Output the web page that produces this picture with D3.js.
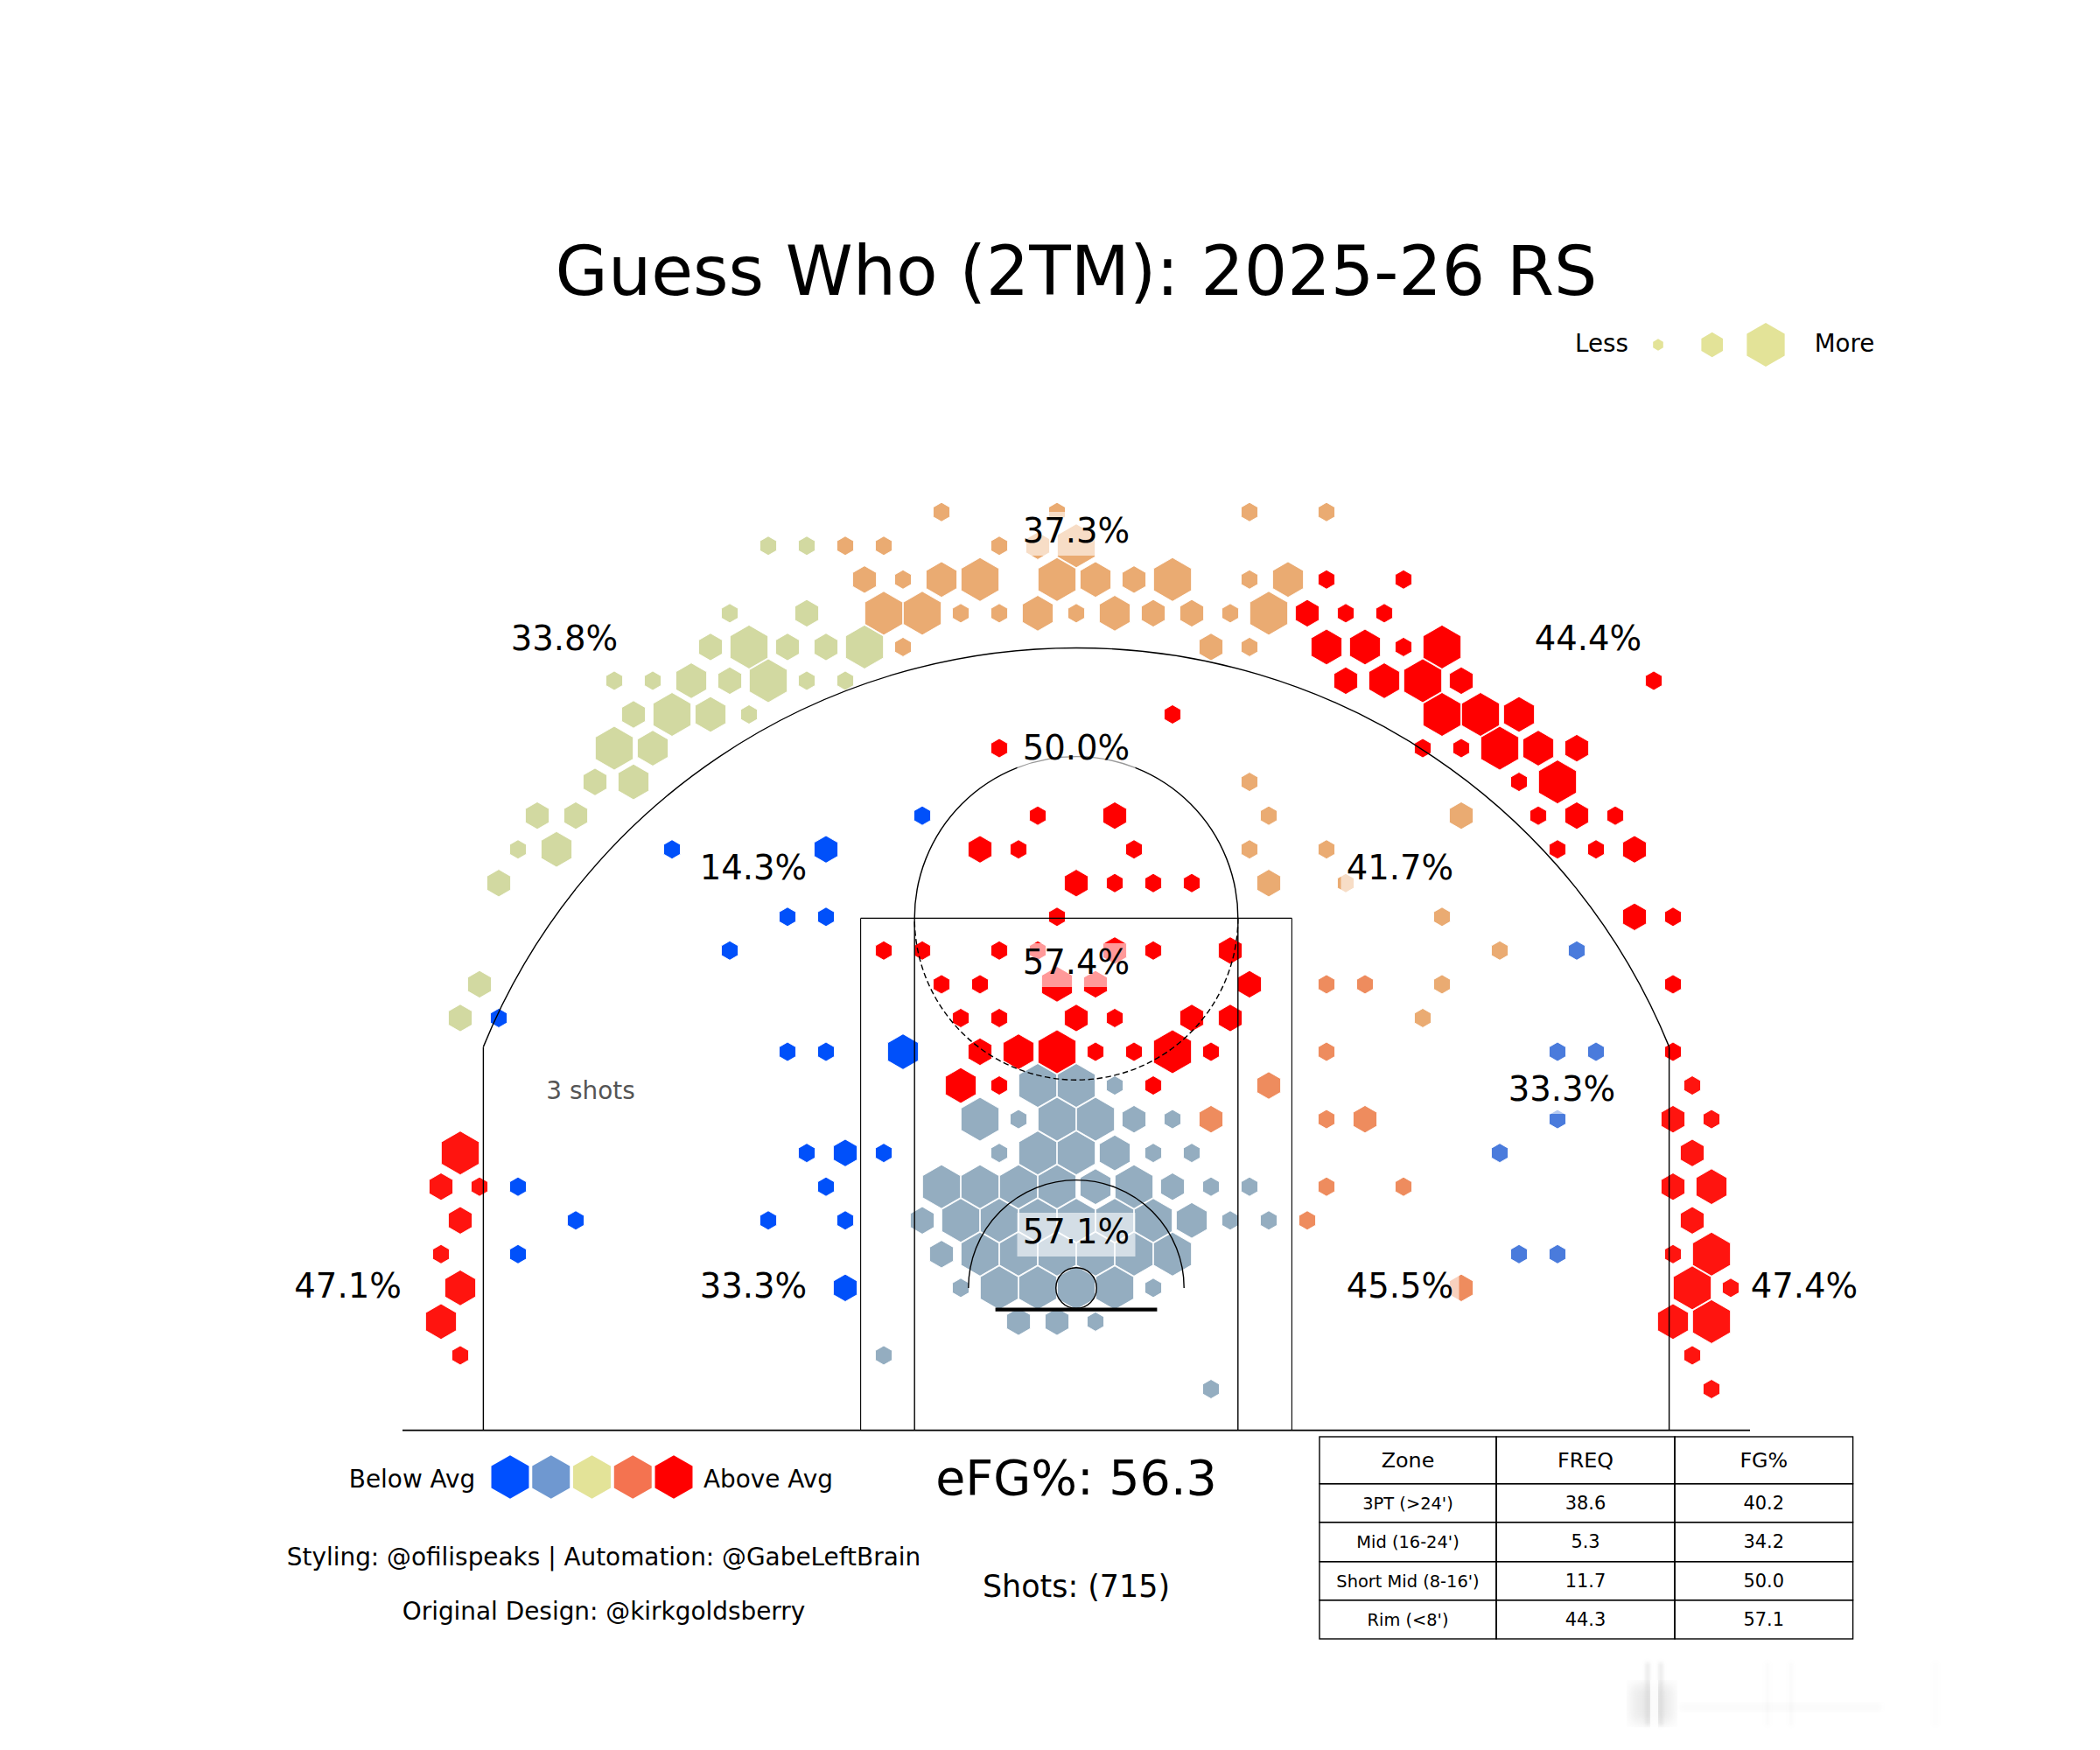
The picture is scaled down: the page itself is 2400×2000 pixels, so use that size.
<!DOCTYPE html>
<html lang="en">
<head>
  <meta charset="UTF-8">
  <title>Shot_Chart</title>
  <script src="https://cdn.jsdelivr.net/npm/d3@7"></script>
  <style>
    html, body { margin: 0; padding: 0; background: #fff; }
    svg { display: block; }
    text { font-family: "DejaVu Sans", sans-serif; fill: #000; }
  </style>
</head>
<body>
  <div id="shot_chart"></div>

  <script>
    // [col, row, shots] per hex bin. col is in half-bin steps from the hoop, row counts up from the baseline
    // shots is capped at 4, only the drawn size can be read off the picture
    const leftWingThree = [
      [-16,25,1],[-14,25,1],[-18,23,1],[-14,23,2],
      [-19,22,2],[-17,22,4],[-15,22,2],[-13,22,2],[-11,22,4],
      [-24,21,1],[-22,21,1],[-20,21,3],[-18,21,2],[-16,21,4],[-14,21,1],[-12,21,1],
      [-23,20,2],[-21,20,4],[-19,20,3],[-17,20,1],
      [-24,19,4],[-22,19,3],[-25,18,2],[-23,18,3],[-28,17,2],[-26,17,2],
      [-29,16,1],[-27,16,3],[-30,15,2],[-31,12,2],[-32,11,2]
    ];
    const topThree = [
      [-7,26,1],[-1,26,1],[9,26,1],[13,26,1],
      [-12,25,1],[-10,25,1],[-4,25,1],[-2,25,2],[0,25,4],
      [-11,24,2],[-9,24,1],[-7,24,3],[-5,24,4],[-1,24,4],[1,24,3],[3,24,2],[5,24,4],[9,24,1],[11,24,3],
      [-10,23,4],[-8,23,4],[-6,23,1],[-4,23,1],[-2,23,3],[0,23,1],[2,23,3],[4,23,2],[6,23,2],[8,23,1],[10,23,4],
      [-9,22,1],[7,22,2],[9,22,1]
    ];
    const rightWingThree = [
      [13,24,1],[17,24,1],[12,23,2],[14,23,1],[16,23,1],
      [13,22,3],[15,22,3],[17,22,1],[19,22,4],
      [14,21,2],[16,21,3],[18,21,4],[20,21,2],[30,21,1],
      [19,20,4],[21,20,4],[23,20,3],
      [18,19,1],[20,19,1],[22,19,4],[24,19,3],[26,19,2],
      [23,18,1],[25,18,4],[24,17,1],[26,17,2],[28,17,1],
      [25,16,1],[27,16,1],[29,16,2],[29,14,2],[31,14,1],[31,12,1],[31,10,1]
    ];
    const leftCorner = [
      [-32,7,4],[-33,6,2],[-31,6,1],[-32,5,2],[-33,4,1],[-32,3,3],[-33,2,3],[-32,1,1]
    ];
    const rightCorner = [
      [32,9,1],[31,8,2],[33,8,1],[32,7,2],[31,6,2],[33,6,3],[32,5,2],
      [31,4,1],[33,4,4],[32,3,4],[34,3,1],[31,2,3],[33,2,4],[32,1,1],[33,0,1]
    ];
    const leftMid = [
      [-8,17,1],[-21,16,1],[-13,16,2],[-15,14,1],[-13,14,1],[-18,13,1],[-30,11,1],
      [-15,10,1],[-13,10,1],[-9,10,3],[-14,7,1],[-12,7,2],[-10,7,1],
      [-29,6,1],[-13,6,1],[-26,5,1],[-16,5,1],[-12,5,1],[-29,4,1],[-12,3,2]
    ];
    const rightLongMid = [
      [26,13,1],[25,10,1],[27,10,1],[25,8,1],[22,7,1],[23,4,1],[25,4,1]
    ];
    const shortMid = [
      [5,20,1],[-4,19,1],[-2,17,1],[2,17,2],[-5,16,2],[-3,16,1],[3,16,1],
      [0,15,2],[2,15,1],[4,15,1],[6,15,1],[-1,14,1],
      [-10,13,1],[-8,13,1],[-4,13,1],[-2,13,1],[2,13,2],[4,13,1],[8,13,2],
      [-7,12,1],[-5,12,1],[-1,12,3],[1,12,2],[9,12,2],
      [-6,11,1],[-4,11,1],[0,11,2],[2,11,1],[6,11,2],[8,11,2],
      [-5,10,2],[-3,10,3],[-1,10,4],[1,10,1],[3,10,1],[5,10,4],[7,10,1],
      [-6,9,3],[-4,9,1],[4,9,1]
    ];
    const rightElbow = [
      [9,18,1],[10,17,1],[20,17,2],[9,16,1],[13,16,1],[10,15,2],[14,15,1],
      [19,14,1],[22,13,1],[19,12,1],[18,11,1]
    ];
    const rightBaseline = [
      [13,12,1],[15,12,1],[13,10,1],[10,9,2],[7,8,2],[13,8,1],[15,8,2],
      [13,6,1],[17,6,1],[12,5,1],[20,3,2]
    ];
    const rim = [
      [-2,9,4],[0,9,4],[2,9,1],
      [-5,8,4],[-3,8,1],[-1,8,4],[1,8,4],[3,8,2],[5,8,1],
      [-4,7,1],[-2,7,4],[0,7,4],[2,7,3],[4,7,1],[6,7,1],
      [-7,6,4],[-5,6,4],[-3,6,4],[-1,6,4],[1,6,3],[3,6,4],[5,6,2],[7,6,1],[9,6,1],
      [-8,5,2],[-6,5,4],[-4,5,4],[-2,5,4],[0,5,4],[2,5,4],[4,5,4],[6,5,3],[8,5,1],[10,5,1],
      [-7,4,2],[-5,4,4],[-3,4,4],[-1,4,4],[1,4,4],[3,4,4],[5,4,4],
      [-6,3,1],[-4,3,4],[-2,3,4],[0,3,4],[2,3,4],[4,3,1],
      [-3,2,2],[-1,2,2],[1,2,1],[-10,1,1],[7,0,1]
    ];

    const zoneLabels = ['37.3%', '50.0%', '57.4%', '57.1%', '33.8%', '44.4%', '14.3%', '41.7%', '47.1%', '33.3%', '45.5%', '47.4%', '33.3%'];
    const legendColors = ['#0050ff', '#6f98d0', '#e3e398', '#f47350', '#ff0000'];
    const tableHeader = ['Zone', 'FREQ', 'FG%'];
    const tableZones = ["3PT (>24')", "Mid (16-24')", "Short Mid (8-16')", "Rim (<8')"];
    const tableFreq = ['38.6', '5.3', '11.7', '44.3'];
    const tableFg = ['40.2', '34.2', '50.0', '57.1'];

    const width = 2400, height = 2000;

    const svg = d3.select('#shot_chart')
      .append('svg')
        .attr('width', width)
        .attr('height', height);

    // court is in feet, hoop x = 0, baseline y = 0
    const x = d3.scaleLinear().domain([-25, 25]).range([460, 2000]);
    const y = d3.scaleLinear().domain([0, 19]).range([1634.6, 1049.4]);
    const colX = d3.scaleLinear().domain([-34, 34]).range([482, 1978]);
    const rowY = d3.scaleLinear().domain([0, 26]).range([1587.5, 585.2]);
    const hexR = d3.scaleLinear().domain([1, 4]).range([11, 25]);

    const hexPath = r => d3.lineRadial()
      .angle((d, i) => i * Math.PI / 3)
      .radius(r)
      .curve(d3.curveLinearClosed)(d3.range(6));

    const zones = [
      [leftWingThree, '#d2d9a1'],
      [topThree, '#eaab72'],
      [rightWingThree, '#ff0000'],
      [leftCorner, '#ff140f'],
      [rightCorner, '#ff140f'],
      [leftMid, '#0050fa'],
      [rightLongMid, '#4a7bdc'],
      [shortMid, '#ff0000'],
      [rightElbow, '#eaab72'],
      [rightBaseline, '#ee8c5e'],
      [rim, '#94adc0']
    ];

    const hexes = svg.append('g');
    zones.forEach(([bins, color]) => {
      hexes.append('g')
        .selectAll('path')
        .data(bins)
        .join('path')
        .attr('d', d => hexPath(hexR(d[2])))
        .attr('transform', d => `translate(${colX(d[0])},${rowY(d[1])})`)
        .attr('fill', color)
        .attr('stroke', '#fff')
        .attr('stroke-width', 0.9);
    });

    // court lines
    const court = svg.append('g')
      .attr('fill', 'none')
      .attr('stroke', '#000')
      .attr('stroke-width', 1.4);

    const segment = (x1, y1, x2, y2, sw) => court.append('line')
      .attr('x1', x(x1)).attr('y1', y(y1))
      .attr('x2', x(x2)).attr('y2', y(y2))
      .attr('stroke-width', sw || 1.4);

    const hoopY = 5.28;
    const threeR = 23.75;
    const cornerY = hoopY + Math.sqrt(threeR * threeR - 22 * 22);

    segment(-25, 0, 25, 0, 1.7);
    segment(-22, 0, -22, cornerY);
    segment(22, 0, 22, cornerY);
    segment(-8, 0, -8, 19, 1.1);
    segment(8, 0, 8, 19, 1.1);
    segment(-6, 0, -6, 19);
    segment(6, 0, 6, 19);
    segment(-8, 19, 8, 19, 1.1);
    segment(-3, 4.48, 3, 4.48, 4.4);

    const ftPx = x(1) - x(0);
    // open arc around a court point, angles clockwise from +x
    const arcAt = (cy, r, a0, a1) => {
      const p = d3.path();
      p.arc(x(0), y(cy), r * ftPx, a0, a1);
      return court.append('path').attr('d', p.toString());
    };
    const threeHalf = Math.asin(22 / threeR);

    arcAt(hoopY, threeR, -Math.PI / 2 - threeHalf, -Math.PI / 2 + threeHalf);
    arcAt(hoopY, 4, -Math.PI, 0);
    arcAt(19, 6, -Math.PI, 0);
    arcAt(19, 6, 0, Math.PI).attr('stroke-dasharray', '6.5,3.5');
    court.append('circle')
      .attr('cx', x(0)).attr('cy', y(hoopY))
      .attr('r', 0.755 * ftPx);

    // zone percentages sit on a white box at 60% that also fades what is under it
    const labelCx = [1230, 1230, 1230, 1230, 645, 1815, 861, 1600, 397.6, 861, 1600, 2062, 1785];
    const labelCy = [606, 853.5, 1099, 1407, 728.6, 728.6, 991, 991, 1469, 1469, 1469, 1469, 1244];

    const labels = svg.append('g')
      .selectAll('g')
      .data(zoneLabels)
      .join('g')
      .attr('transform', (d, i) => `translate(${labelCx[i]},${labelCy[i]})`);
    labels.append('rect')
      .attr('x', -67.5).attr('y', -21)
      .attr('width', 135).attr('height', 50)
      .attr('fill', '#fff')
      .attr('fill-opacity', 0.6);
    labels.append('text')
      .attr('y', 14.2)
      .attr('text-anchor', 'middle')
      .style('font-size', '38.6px')
      .text(d => d);

    const addText = (str, cx, base, size, color) => svg.append('text')
      .attr('x', cx)
      .attr('y', base)
      .attr('text-anchor', 'middle')
      .style('font-size', size + 'px')
      .style('fill', color || '#000')
      .text(str);

    addText('3 shots', 675, 1255.5, 27.9, '#555');
    addText('Guess Who (2TM): 2025-26 RS', 1230, 336.5, 77.8);

    // size legend
    addText('Less', 1830.5, 402, 27.7);
    addText('More', 2108, 402, 27.7);
    const sizeLegendX = [1895, 1956.7, 2018];
    const sizeLegendR = [6.7, 14.2, 25];
    svg.append('g')
      .selectAll('path')
      .data(sizeLegendR)
      .join('path')
      .attr('d', d => hexPath(d))
      .attr('transform', (d, i) => `translate(${sizeLegendX[i]},394)`)
      .attr('fill', '#e3e398');

    // colour legend
    const legendX = d3.scalePoint().domain(d3.range(5)).range([583, 770]);
    svg.append('g')
      .selectAll('path')
      .data(legendColors)
      .join('path')
      .attr('d', hexPath(24.8))
      .attr('transform', (d, i) => `translate(${legendX(i)},1688)`)
      .attr('fill', d => d);
    addText('Below Avg', 471, 1700, 27.9);
    addText('Above Avg', 878, 1700, 27.9);

    addText('eFG%: 56.3', 1230, 1708, 55.5);
    addText('Shots: (715)', 1230, 1824.5, 34.9);
    addText('Styling: @ofilispeaks | Automation: @GabeLeftBrain', 690, 1789, 27.9);
    addText('Original Design: @kirkgoldsberry', 690, 1851, 27.9);

    // zone table
    const colEdges = [1508, 1710, 1914, 2117.6];
    const rowEdges = [1642, 1695.7, 1739.7, 1784.7, 1828.7, 1873];
    const tableRows = [tableHeader].concat(tableZones.map((z, i) => [z, tableFreq[i], tableFg[i]]));
    const tableRow = svg.append('g')
      .selectAll('g')
      .data(tableRows)
      .join('g')
      .attr('class', (d, r) => 'row' + r);
    tableRow.each(function (cells, r) {
      const row = d3.select(this);
      row.selectAll('rect')
        .data(cells)
        .join('rect')
        .attr('x', (d, i) => colEdges[i])
        .attr('y', rowEdges[r])
        .attr('width', (d, i) => colEdges[i + 1] - colEdges[i])
        .attr('height', rowEdges[r + 1] - rowEdges[r])
        .attr('fill', 'none')
        .attr('stroke', '#000')
        .attr('stroke-width', 1.4);
      row.selectAll('text')
        .data(cells)
        .join('text')
        .attr('x', (d, i) => (colEdges[i] + colEdges[i + 1]) / 2)
        .attr('y', (rowEdges[r] + rowEdges[r + 1]) / 2 + (r === 0 ? 8 : 7))
        .attr('text-anchor', 'middle')
        .style('font-size', (d, i) => r === 0 ? '23.8px' : (i === 0 ? '19.4px' : '20.9px'))
        .text(d => d);
    });

    // blurred smudge left in the bottom corner of the picture
    const defs = svg.append('defs');
    defs.append('filter').attr('id', 'blur').append('feGaussianBlur').attr('stdDeviation', 7);
    defs.append('filter').attr('id', 'blurThin').append('feGaussianBlur').attr('stdDeviation', 2);
    svg.append('rect')
      .attr('x', 1864).attr('y', 1925).attr('width', 48).attr('height', 44)
      .attr('fill', '#bbb').attr('fill-opacity', 0.3)
      .attr('filter', 'url(#blur)');
    svg.append('rect')
      .attr('x', 1920).attr('y', 1946).attr('width', 230).attr('height', 10)
      .attr('fill', '#bbb').attr('fill-opacity', 0.06)
      .attr('filter', 'url(#blurThin)');
    const streakX = [1883, 1898, 2020, 2047, 2212];
    const streakOpacity = [0.3, 0.3, 0.07, 0.07, 0.05];
    svg.append('g')
      .attr('filter', 'url(#blurThin)')
      .selectAll('rect')
      .data(streakX)
      .join('rect')
      .attr('x', d => d - 2).attr('y', 1900)
      .attr('width', 4).attr('height', 72)
      .attr('fill', '#aaa')
      .attr('fill-opacity', (d, i) => streakOpacity[i]);
    svg.append('rect')
      .attr('x', 1886).attr('y', 1920).attr('width', 9).attr('height', 55)
      .attr('fill', '#fff').attr('fill-opacity', 0.8);
  </script>
</body>
</html>
